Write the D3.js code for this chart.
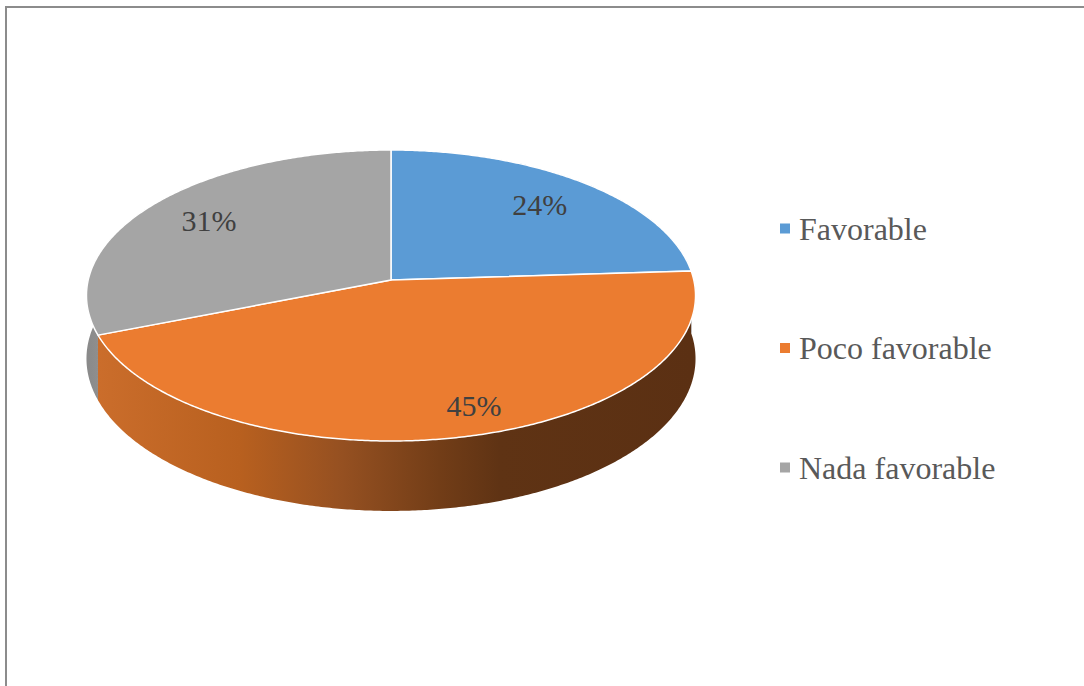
<!DOCTYPE html>
<html>
<head>
<meta charset="utf-8">
<script src="https://cdn.jsdelivr.net/npm/d3@7"></script>
</head>
<body style="margin:0;background:#ffffff">
<svg id="chart" width="1084" height="686" style="display:block"></svg>
<script>
// Survey answers shown as a 3D pie
const categories = ["Favorable", "Poco favorable", "Nada favorable"];
const values = [24, 45, 31];
const palette = ["#5B9BD5", "#EB7C30", "#A5A5A5"];

const W = 1084, H = 686;
const svg = d3.select("#chart");

// legend (serif text, square swatches)
const color = d3.scaleOrdinal().domain(categories).range(palette);
const legendY = d3.scalePoint().domain(categories).range([228.5, 467.5]);
const legend = svg.append("g").selectAll("g")
  .data(categories)
  .join("g")
  .attr("transform", c => `translate(780,${legendY(c)})`);
legend.append("text")
  .attr("x", 19).attr("y", 11)
  .attr("font-family", "Liberation Serif")
  .attr("font-size", 32)
  .attr("fill", "#595959")
  .text(c => c);
legend.append("rect")
  .attr("x", 0).attr("y", -5)
  .attr("width", 10).attr("height", 10)
  .attr("fill", c => color(c));

// chart frame
svg.append("path")
  .attr("d", `M6,${H} L6,7 L${W},7`)
  .attr("fill", "none")
  .attr("stroke", "#8c8c8c")
  .attr("stroke-width", 2);

// pie layout: starts at 12 o'clock and runs clockwise
const pie = d3.pie().sort(null).value(d => d.value);
const slices = pie(categories.map((c, i) => ({ name: c, value: values[i] })));

// perspective projection of the tilted disc
const cx = 391, cy = 280;        // disc centre on screen
const sx = 302.8, sy = 143.85;   // horizontal / vertical half-axes
const persp = 0.1065;            // near side appears larger
const depth = 62.5;              // thickness of the disc
function proj(a, r, z) {
  const x = r * Math.sin(a), y = -r * Math.cos(a);
  const w = 1 - persp * y;
  return [cx + sx * x / w, cy + (sy * y + depth * z) / w];
}
function arcPoints(a0, a1, z) {
  const n = Math.max(2, Math.ceil(Math.abs(a1 - a0) / (Math.PI / 360)));
  return d3.range(n + 1).map(i => proj(a0 + (a1 - a0) * i / n, 1, z));
}
const line = d3.line();

// shading for the outer walls
const defs = svg.append("defs");
const wallStops = {
  "Poco favorable": [[0, "#CC6E2C"], [0.25, "#B8601F"], [0.42, "#955021"], [0.58, "#723D17"], [0.68, "#5F3314"], [1, "#5B3013"]],
  "Nada favorable": [[0, "#8A8A8A"], [0.03, "#929292"], [1, "#9A9A9A"]],
  "Favorable": [[0, "#3E6E9A"], [1, "#2F557A"]]
};
categories.forEach((c, i) => {
  const g = defs.append("linearGradient")
    .attr("id", "wall" + i)
    .attr("gradientUnits", "userSpaceOnUse")
    .attr("x1", cx - sx).attr("x2", cx + sx)
    .attr("y1", 0).attr("y2", 0);
  wallStops[c].forEach(s => g.append("stop").attr("offset", s[0]).attr("stop-color", s[1]));
});

// outer walls (drawn first; top faces cover the hidden parts)
const wallOrder = [0, 2, 1];
svg.append("g").selectAll("path")
  .data(wallOrder.map(i => slices[i]))
  .join("path")
  .attr("d", d => {
    const top = arcPoints(d.startAngle, d.endAngle, 0);
    const bottom = arcPoints(d.endAngle, d.startAngle, 1);
    return line(top.concat(bottom)) + "Z";
  })
  .attr("fill", d => `url(#wall${d.index})`)
  .attr("stroke", "none");

// top faces
svg.append("g").selectAll("path")
  .data(slices)
  .join("path")
  .attr("d", d => line([proj(0, 0, 0)].concat(arcPoints(d.startAngle, d.endAngle, 0))) + "Z")
  .attr("fill", d => color(d.data.name))
  .attr("stroke", "#ffffff")
  .attr("stroke-width", 1.5)
  .attr("stroke-linejoin", "round");

// percentage labels on the slices (the front slice label sits a little
// further out, over the visible wall)
function labelPos(d) {
  const mid = (d.startAngle + d.endAngle) / 2;
  const front = -Math.cos(mid) > 0.5;
  return proj(mid - (front ? 0.1 : 0), front ? 0.8 : 0.76, front ? 0.1 : 0);
}
svg.append("g").selectAll("text")
  .data(slices)
  .join("text")
  .attr("x", d => labelPos(d)[0])
  .attr("y", d => labelPos(d)[1] + 10)
  .attr("text-anchor", "middle")
  .attr("font-family", "Liberation Serif")
  .attr("font-size", 30)
  .attr("fill", "#404040")
  .text(d => d.data.value + "%");
</script>
</body>
</html>
